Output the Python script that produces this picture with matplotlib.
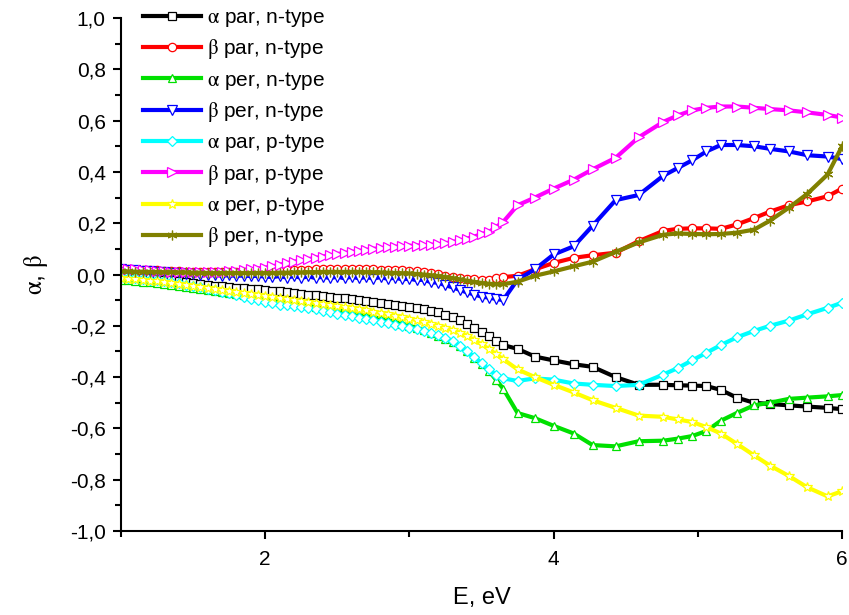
import numpy as np
import matplotlib
matplotlib.use("Agg")
import matplotlib.pyplot as plt
from matplotlib.ticker import MultipleLocator, FixedLocator, FuncFormatter

plt.rcParams['font.family'] = ['Liberation Sans', 'DejaVu Sans']
plt.rcParams['mathtext.fontset'] = 'stix'

# Photon energy grid (eV)
E_low = [1.00, 1.05, 1.10, 1.15, 1.20, 1.25, 1.30, 1.35, 1.40, 1.45,
         1.50, 1.55, 1.60, 1.65, 1.70, 1.75, 1.80, 1.85, 1.90, 1.95,
         2.00, 2.05, 2.10, 2.15, 2.20, 2.25, 2.30, 2.35, 2.40, 2.45,
         2.50, 2.55, 2.60, 2.65, 2.70, 2.75, 2.80, 2.85, 2.90, 2.95,
         3.00, 3.05, 3.10, 3.15, 3.20, 3.25, 3.30, 3.35, 3.40, 3.45, 3.50]
E_high = [3.55, 3.60, 3.65, 3.75, 3.87, 4.00, 4.14, 4.27, 4.43, 4.59, 4.76,
          4.86, 4.96, 5.06, 5.16, 5.27, 5.39, 5.50, 5.63, 5.76, 5.90, 6.00]
energy = E_low + E_high

alpha_par_n = [-0.005, -0.007, -0.009, -0.011, -0.014, -0.017, -0.020, -0.023, -0.026, -0.030,
               -0.034, -0.037, -0.040, -0.043, -0.046, -0.049, -0.052, -0.054, -0.056, -0.058,
               -0.060, -0.063, -0.066, -0.069, -0.072, -0.075, -0.078, -0.081, -0.084, -0.087,
               -0.090, -0.093, -0.096, -0.099, -0.102, -0.106, -0.110, -0.114, -0.118, -0.122,
               -0.126, -0.130, -0.135, -0.141, -0.148, -0.156, -0.166, -0.178, -0.192, -0.208, -0.225,
               -0.240, -0.260, -0.275, -0.290, -0.320, -0.335, -0.350, -0.360, -0.400, -0.430, -0.430,
               -0.432, -0.433, -0.435, -0.450, -0.480, -0.500, -0.505, -0.510, -0.515, -0.520, -0.525]

beta_par_n = [0.020, 0.020, 0.019, 0.018, 0.017, 0.016, 0.014, 0.013, 0.012, 0.011,
              0.010, 0.009, 0.008, 0.008, 0.008, 0.008, 0.009, 0.010, 0.011, 0.012,
              0.013, 0.014, 0.015, 0.016, 0.017, 0.018, 0.019, 0.020, 0.020, 0.021,
              0.021, 0.021, 0.021, 0.021, 0.020, 0.020, 0.019, 0.018, 0.017, 0.016,
              0.014, 0.012, 0.009, 0.005, 0.001, -0.004, -0.009, -0.013, -0.016, -0.018, -0.020,
              -0.020, -0.015, -0.010, -0.005, 0.020, 0.045, 0.065, 0.075, 0.085, 0.130, 0.170,
              0.178, 0.180, 0.180, 0.178, 0.195, 0.220, 0.245, 0.270, 0.285, 0.305, 0.335]

alpha_per_n = [-0.020, -0.022, -0.025, -0.028, -0.031, -0.034, -0.037, -0.040, -0.044, -0.048,
               -0.052, -0.056, -0.060, -0.064, -0.068, -0.072, -0.076, -0.080, -0.083, -0.087,
               -0.090, -0.095, -0.100, -0.105, -0.110, -0.115, -0.120, -0.125, -0.130, -0.135,
               -0.140, -0.145, -0.150, -0.155, -0.160, -0.166, -0.172, -0.178, -0.185, -0.192,
               -0.200, -0.208, -0.217, -0.227, -0.238, -0.250, -0.264, -0.280, -0.300, -0.325, -0.350,
               -0.375, -0.410, -0.445, -0.540, -0.560, -0.590, -0.620, -0.665, -0.670, -0.650, -0.648,
               -0.640, -0.630, -0.610, -0.570, -0.540, -0.510, -0.500, -0.485, -0.480, -0.475, -0.470]

beta_per_n = [0.020, 0.019, 0.017, 0.015, 0.013, 0.011, 0.009, 0.007, 0.005, 0.003,
              0.001, 0.000, -0.002, -0.002, -0.004, -0.003, -0.005, -0.004, -0.006, -0.005,
              -0.008, -0.010, -0.006, -0.012, -0.006, -0.013, -0.007, -0.014, -0.008, -0.014,
              -0.008, -0.015, -0.008, -0.015, -0.009, -0.016, -0.010, -0.017, -0.012, -0.019,
              -0.016, -0.022, -0.020, -0.030, -0.032, -0.042, -0.050, -0.060, -0.070, -0.078, -0.086,
              -0.090, -0.095, -0.100, -0.020, 0.020, 0.078, 0.110, 0.190, 0.290, 0.310, 0.385,
              0.415, 0.445, 0.480, 0.505, 0.505, 0.500, 0.490, 0.480, 0.465, 0.460, 0.450]

alpha_par_p = [-0.010, -0.012, -0.014, -0.017, -0.020, -0.023, -0.027, -0.031, -0.035, -0.040,
               -0.045, -0.050, -0.055, -0.061, -0.067, -0.073, -0.080, -0.087, -0.094, -0.101,
               -0.108, -0.113, -0.117, -0.120, -0.122, -0.125, -0.130, -0.136, -0.142, -0.148,
               -0.153, -0.158, -0.163, -0.168, -0.173, -0.178, -0.184, -0.190, -0.196, -0.202,
               -0.208, -0.214, -0.221, -0.228, -0.236, -0.246, -0.260, -0.278, -0.300, -0.322, -0.345,
               -0.370, -0.390, -0.405, -0.415, -0.405, -0.410, -0.425, -0.430, -0.435, -0.430, -0.390,
               -0.365, -0.335, -0.305, -0.275, -0.245, -0.220, -0.200, -0.180, -0.155, -0.130, -0.110]

beta_par_p = [0.022, 0.021, 0.020, 0.018, 0.016, 0.014, 0.012, 0.011, 0.010, 0.009,
              0.008, 0.008, 0.008, 0.009, 0.010, 0.012, 0.014, 0.017, 0.020, 0.023,
              0.027, 0.032, 0.038, 0.044, 0.050, 0.055, 0.060, 0.065, 0.070, 0.075,
              0.080, 0.084, 0.088, 0.092, 0.096, 0.100, 0.103, 0.106, 0.108, 0.110,
              0.112, 0.113, 0.114, 0.116, 0.118, 0.122, 0.127, 0.133, 0.140, 0.148, 0.158,
              0.165, 0.185, 0.205, 0.270, 0.300, 0.335, 0.370, 0.410, 0.455, 0.535, 0.595,
              0.620, 0.640, 0.650, 0.655, 0.655, 0.650, 0.645, 0.640, 0.632, 0.622, 0.612]

alpha_per_p = [-0.015, -0.017, -0.019, -0.021, -0.024, -0.027, -0.030, -0.033, -0.036, -0.040,
               -0.044, -0.048, -0.052, -0.056, -0.060, -0.064, -0.068, -0.072, -0.076, -0.080,
               -0.084, -0.088, -0.092, -0.096, -0.100, -0.104, -0.108, -0.112, -0.116, -0.120,
               -0.124, -0.128, -0.132, -0.136, -0.140, -0.145, -0.150, -0.155, -0.160, -0.166,
               -0.172, -0.178, -0.185, -0.192, -0.200, -0.208, -0.217, -0.227, -0.240, -0.255, -0.272,
               -0.290, -0.310, -0.330, -0.370, -0.400, -0.430, -0.460, -0.490, -0.520, -0.550, -0.555,
               -0.565, -0.575, -0.595, -0.620, -0.660, -0.705, -0.745, -0.785, -0.830, -0.865, -0.845]

beta_per_n2 = [0.012, 0.012, 0.011, 0.011, 0.010, 0.010, 0.009, 0.009, 0.008, 0.008,
               0.007, 0.007, 0.006, 0.006, 0.006, 0.006, 0.006, 0.006, 0.006, 0.006,
               0.006, 0.006, 0.007, 0.007, 0.008, 0.008, 0.009, 0.009, 0.010, 0.010,
               0.010, 0.010, 0.010, 0.010, 0.009, 0.009, 0.008, 0.007, 0.006, 0.005,
               0.004, 0.002, 0.000, -0.003, -0.006, -0.010, -0.014, -0.019, -0.024, -0.029, -0.033,
               -0.036, -0.038, -0.038, -0.028, -0.005, 0.012, 0.032, 0.050, 0.088, 0.125, 0.155,
               0.160, 0.158, 0.157, 0.158, 0.163, 0.175, 0.210, 0.260, 0.315, 0.390, 0.500]

labels = [r'$\mathrm{\alpha}$ par, n-type', r'$\mathrm{\beta}$ par, n-type',
          r'$\mathrm{\alpha}$ per, n-type', r'$\mathrm{\beta}$ per, n-type',
          r'$\mathrm{\alpha}$ par, p-type', r'$\mathrm{\beta}$ par, p-type',
          r'$\mathrm{\alpha}$ per, p-type', r'$\mathrm{\beta}$ per, n-type']
series = [alpha_par_n, beta_par_n, alpha_per_n, beta_per_n,
          alpha_par_p, beta_par_p, alpha_per_p, beta_per_n2]
colors = ['#000000', '#FF0000', '#00E000', '#0000FF', '#00FFFF', '#FF00FF', '#FFFF00', '#808000']
markers = ['s', 'o', '^', 'v', 'D', '>', '*', (6, 2, 0)]
msizes = [5.5, 6, 6, 6.5, 5.5, 6.5, 7.5, 7]

fig = plt.figure(figsize=(8.49, 6.15), dpi=100)
ax = fig.add_axes([0.1425, 0.1366, 0.8493, 0.8341])

for y, lab, c, m, ms in zip(series, labels, colors, markers, msizes):
    ax.plot(energy, y, color=c, lw=3.0, marker=m, markersize=ms,
            markerfacecolor='white', markeredgecolor=c, markeredgewidth=0.9,
            label=lab)

ax.set_xlim(1, 6)
ax.set_ylim(-1.0, 1.0)
ax.xaxis.set_major_locator(FixedLocator([2, 4, 6]))
ax.xaxis.set_minor_locator(FixedLocator([1, 3, 5]))
ax.yaxis.set_major_locator(MultipleLocator(0.2))
ax.yaxis.set_minor_locator(MultipleLocator(0.1))
ax.yaxis.set_major_formatter(FuncFormatter(lambda v, p: ('%.1f' % v).replace('.', ',').replace('-0,0', '0,0')))
ax.xaxis.set_major_formatter(FuncFormatter(lambda v, p: '%d' % v))

for s in ['top', 'right']:
    ax.spines[s].set_visible(False)
for s in ['left', 'bottom']:
    ax.spines[s].set_linewidth(1.5)

ax.tick_params(axis='both', which='major', direction='out', length=6, width=1.5, labelsize=15)
ax.tick_params(axis='both', which='minor', direction='out', length=4, width=1.5)
ax.tick_params(axis='x', which='major', pad=8)
ax.tick_params(axis='y', which='major', pad=5)

ax.set_xlabel('E, eV', fontsize=17, labelpad=13)
ax.set_ylabel(r'$\mathrm{\alpha}$, $\mathrm{\beta}$', fontsize=18, labelpad=14)

leg = ax.legend(loc='upper left', bbox_to_anchor=(0.01, 1.05), frameon=False,
                fontsize=15, numpoints=1, handlelength=2.8, handletextpad=0.3,
                labelspacing=0.40, borderaxespad=0.3)

fig.savefig('out.png', dpi=100)
